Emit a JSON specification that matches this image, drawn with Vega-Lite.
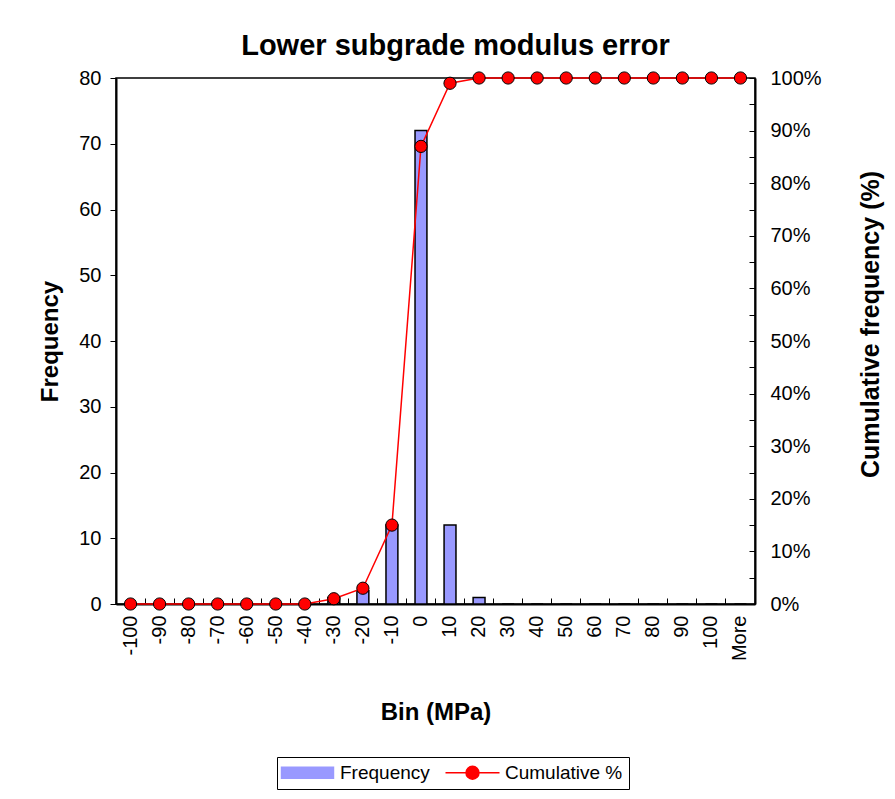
{
  "$schema": "https://vega.github.io/schema/vega-lite/v6.json",
  "width": 639,
  "height": 526,
  "autosize": {"type": "none"},
  "padding": {"left": 116, "top": 78, "right": 140, "bottom": 195},
  "background": "white",
  "title": {
    "text": "Lower subgrade modulus error",
    "font": "Liberation Sans",
    "fontSize": 29,
    "fontWeight": "bold",
    "color": "black",
    "anchor": "middle",
    "offset": 7,
    "dx": 20
  },
  "config": {
    "font": "Liberation Sans",
    "view": {"stroke": "black", "strokeWidth": 1.5},
    "axis": {
      "labelFont": "Liberation Sans",
      "labelFontSize": 20,
      "labelColor": "black",
      "titleFont": "Liberation Sans",
      "titleFontSize": 24,
      "titleFontWeight": "bold",
      "titleColor": "black",
      "domainColor": "black",
      "tickColor": "black",
      "domainWidth": 2,
      "tickWidth": 1,
      "grid": false
    },
    "legend": {
      "title": null,
      "orient": "none",
      "legendX": 161,
      "legendY": 679,
      "direction": "horizontal",
      "columns": 2,
      "strokeColor": "black",
      "fillColor": "white",
      "padding": 6,
      "columnPadding": 12,
      "labelFont": "Liberation Sans",
      "labelFontSize": 19,
      "labelColor": "black",
      "symbolSize": 144,
      "symbolOffset": 15,
      "labelOffset": 23,
      "symbolStrokeColor": "black",
      "symbolStrokeWidth": 1.5
    }
  },
  "data": {
    "values": [
      {"bin": "-100", "freq": 0, "cum": 0},
      {"bin": "-90", "freq": 0, "cum": 0},
      {"bin": "-80", "freq": 0, "cum": 0},
      {"bin": "-70", "freq": 0, "cum": 0},
      {"bin": "-60", "freq": 0, "cum": 0},
      {"bin": "-50", "freq": 0, "cum": 0},
      {"bin": "-40", "freq": 0, "cum": 0},
      {"bin": "-30", "freq": 1, "cum": 0.01},
      {"bin": "-20", "freq": 2, "cum": 0.03},
      {"bin": "-10", "freq": 12, "cum": 0.15},
      {"bin": "0", "freq": 72, "cum": 0.87},
      {"bin": "10", "freq": 12, "cum": 0.99},
      {"bin": "20", "freq": 1, "cum": 1},
      {"bin": "30", "freq": 0, "cum": 1},
      {"bin": "40", "freq": 0, "cum": 1},
      {"bin": "50", "freq": 0, "cum": 1},
      {"bin": "60", "freq": 0, "cum": 1},
      {"bin": "70", "freq": 0, "cum": 1},
      {"bin": "80", "freq": 0, "cum": 1},
      {"bin": "90", "freq": 0, "cum": 1},
      {"bin": "100", "freq": 0, "cum": 1},
      {"bin": "More", "freq": 0, "cum": 1}
    ]
  },
  "encoding": {
    "x": {
      "field": "bin",
      "type": "nominal",
      "sort": null,
      "scale": {"paddingInner": 0, "paddingOuter": 0},
      "axis": {
        "title": "Bin (MPa)",
        "labelAngle": -90,
        "bandPosition": 0,
        "tickSize": -6,
        "labelPadding": 17,
        "titlePadding": 40
      }
    }
  },
  "layer": [
    {
      "mark": {"type": "bar", "width": {"band": 0.41}, "stroke": "black", "strokeWidth": 1.5},
      "encoding": {
        "y": {
          "field": "freq",
          "type": "quantitative",
          "scale": {"domain": [0, 80], "nice": false},
          "axis": {
            "title": "Frequency",
            "values": [0, 10, 20, 30, 40, 50, 60, 70, 80],
            "tickSize": 6,
            "labelPadding": 9,
            "titlePadding": 16
          }
        },
        "color": {
          "datum": "Frequency",
          "type": "nominal",
          "scale": {"domain": ["Frequency", "Cumulative %"], "range": ["#9999FF", "#FF0000"]},
          "legend": {
            "encode": {
              "symbols": {
                "update": {
                  "shape": {"signal": "datum.value === 'Frequency' ? 'M-4.33,-0.92H4.33V0.92H-4.33Z' : 'M-4.5,0H4.5M1.08,0A1.08,1.08 0 1 1 -1.08,0A1.08,1.08 0 1 1 1.08,0'"},
                  "fill": {"signal": "datum.value === 'Frequency' ? '#9999FF' : '#FF0000'"},
                  "stroke": {"signal": "datum.value === 'Frequency' ? 'black' : '#FF0000'"},
                  "strokeWidth": {"value": 1.5},
                  "opacity": {"value": 1},
                  "fillOpacity": {"value": 1}
                }
              }
            }
          }
        }
      }
    },
    {
      "layer": [
        {
          "mark": {"type": "line", "strokeWidth": 1.5},
          "encoding": {
            "color": {
              "datum": "Cumulative %",
              "type": "nominal",
              "legend": {
                "encode": {
                  "symbols": {
                    "update": {
                      "shape": {"signal": "datum.value === 'Frequency' ? 'M-4.33,-0.92H4.33V0.92H-4.33Z' : 'M-4.5,0H4.5M1.08,0A1.08,1.08 0 1 1 -1.08,0A1.08,1.08 0 1 1 1.08,0'"},
                      "fill": {"signal": "datum.value === 'Frequency' ? '#9999FF' : '#FF0000'"},
                      "stroke": {"signal": "datum.value === 'Frequency' ? 'black' : '#FF0000'"},
                      "strokeWidth": {"value": 1.5},
                      "opacity": {"value": 1},
                      "fillOpacity": {"value": 1}
                    }
                  }
                }
              }
            }
          }
        },
        {
          "mark": {"type": "point", "filled": true, "size": 150, "stroke": "black", "strokeWidth": 1, "opacity": 1},
          "encoding": {
            "color": {
              "datum": "Cumulative %",
              "type": "nominal",
              "legend": {
                "encode": {
                  "symbols": {
                    "update": {
                      "shape": {"signal": "datum.value === 'Frequency' ? 'M-4.33,-0.92H4.33V0.92H-4.33Z' : 'M-4.5,0H4.5M1.08,0A1.08,1.08 0 1 1 -1.08,0A1.08,1.08 0 1 1 1.08,0'"},
                      "fill": {"signal": "datum.value === 'Frequency' ? '#9999FF' : '#FF0000'"},
                      "stroke": {"signal": "datum.value === 'Frequency' ? 'black' : '#FF0000'"},
                      "strokeWidth": {"value": 1.5},
                      "opacity": {"value": 1},
                      "fillOpacity": {"value": 1}
                    }
                  }
                }
              }
            }
          }
        }
      ],
      "encoding": {
        "y": {
          "field": "cum",
          "type": "quantitative",
          "scale": {"domain": [0, 1], "nice": false},
          "axis": {
            "orient": "right",
            "title": "Cumulative frequency (%)",
            "titleAngle": -90,
            "titleFontSize": 25,
            "titleY": 246,
            "values": [0, 0.05, 0.1, 0.15, 0.2, 0.25, 0.3, 0.35, 0.4, 0.45, 0.5, 0.55, 0.6, 0.65, 0.7, 0.75, 0.8, 0.85, 0.9, 0.95, 1],
            "labelExpr": "round(datum.value * 100) % 10 === 0 ? format(datum.value, '.0%') : ''",
            "tickSize": -6,
            "labelPadding": 21,
            "titlePadding": 62
          }
        }
      }
    }
  ],
  "resolve": {"scale": {"y": "independent"}}
}
